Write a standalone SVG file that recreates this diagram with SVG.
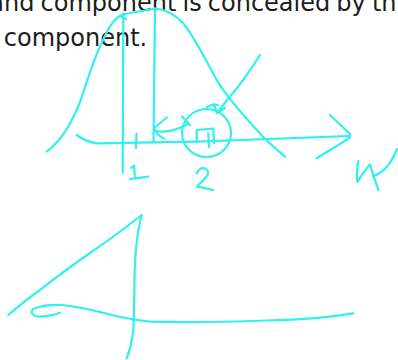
<svg xmlns="http://www.w3.org/2000/svg" width="398" height="360" viewBox="0 0 398 360">
<style>
.t{font-family:"DejaVu Sans","Liberation Sans",sans-serif;font-size:24px;fill:#1c1c1c}
.s{fill:none;stroke:#30f0f0;stroke-width:2.2;stroke-linecap:round;stroke-linejoin:round}
</style>
<rect width="398" height="360" fill="#ffffff"/>
<text class="t" x="-10.7" y="11" word-spacing="-1.5">and component is concealed by th</text>
<text class="t" x="3.8" y="45.5">component.</text>
<g id="upper">
<path class="s" d="M46.7,151.7 C62,140 70,125 78,107 C86,87 92,62 101.7,43 C107,31 112,20 121.7,15 C130,12 140,12 155,8.5 C165,9 175,15 183,23 C192,33 203,55 216.7,80 C225,95 240,112 263,136.7 C272,146 279,151 285,156.7"/>
<path class="s" d="M123.3,13.5 L122.7,173"/>
<path class="s" d="M120,16 L126,19"/>
<path class="s" d="M155,8.5 L153.5,142"/>
<path class="s" d="M76.7,135 Q86,142 97,143.3 L196.7,141.7 L350,136"/>
<path class="s" d="M330,115 L350,134 Q351,137 348,139 L316.7,158.3"/>
<path class="s" d="M136.5,133.5 L136,148"/>
<path class="s" d="M166.7,117.5 L154.2,128 Q156,135 164,138.5"/>
<path class="s" d="M156,131 Q170,134 188,124"/>
<path class="s" d="M182,116.5 L190,125"/>
<ellipse class="s" cx="206.5" cy="133" rx="24.5" ry="24"/>
<path class="s" d="M196.7,142 L196.7,130 L213.3,128.5 L214,143.3"/>
<path class="s" d="M208.3,133.3 L209,147"/>
<path class="s" d="M260,55 Q248,74 237,88 Q226,101 218,112"/>
<path class="s" d="M207,107 Q212,104 218,105"/>
<path class="s" d="M214,104 L217,113 L225,108"/>
<path class="s" d="M131,168 L134,165.5 L135,178 M130,179 Q140,178 148.3,176.5"/>
<path class="s" d="M196.7,173.3 Q200,167 205,168.5 Q210,171 207,176 Q202,182 196.7,186.7 Q205,188 213.3,190"/>
<path class="s" d="M358.3,161 Q356,172 357.5,182 Q363,172 370,164.5 Q374,178 378.5,190 M373,176 Q388,172 397,149"/>
</g>
<g id="lower">
<path class="s" d="M8.3,315 C20,305 30,297 40,290 C55,278 70,267 90,253 C105,243 120,232 141.7,215"/>
<path class="s" d="M141.7,215 Q135,240 134.5,280 Q134,320 133.3,330 Q131,348 126.7,358.3"/>
<path class="s" d="M60,312.7 Q48,317 36.7,316.5 Q29,314 33,309 Q45,304 62,305 Q80,307 100,312 Q125,319 150,321.7 Q200,323 266.7,320.5 Q320,319 353.3,313.3"/>
</g>
</svg>
